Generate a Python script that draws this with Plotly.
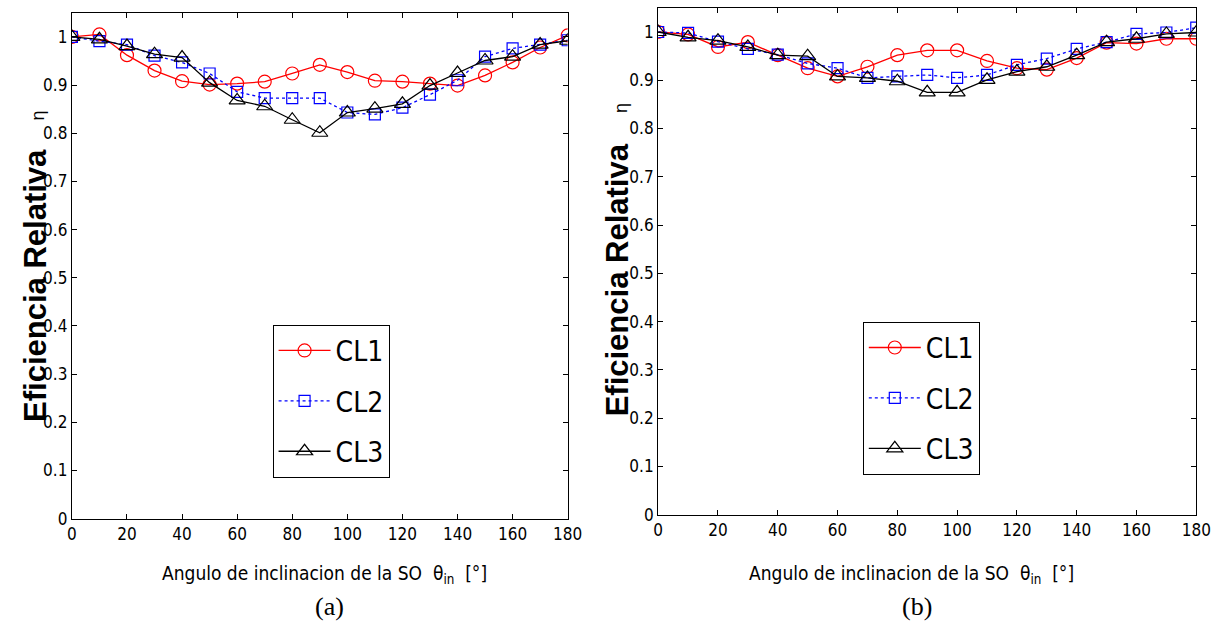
import plotly.graph_objects as go

# ---------------- data ----------------
angles = [0, 10, 20, 30, 40, 50, 60, 70, 80, 90, 100, 110, 120, 130, 140, 150, 160, 170, 180]

a_cl1 = [1.000, 1.005, 0.962, 0.930, 0.908, 0.901, 0.903, 0.907, 0.924, 0.942, 0.927, 0.909, 0.907, 0.903, 0.899, 0.920, 0.947, 0.978, 1.003]
a_cl2 = [1.000, 0.991, 0.984, 0.961, 0.947, 0.924, 0.886, 0.873, 0.873, 0.873, 0.843, 0.839, 0.853, 0.880, 0.910, 0.959, 0.976, 0.984, 0.993]
a_cl3 = [1.000, 0.995, 0.981, 0.964, 0.957, 0.905, 0.868, 0.856, 0.828, 0.801, 0.843, 0.851, 0.861, 0.899, 0.925, 0.951, 0.959, 0.984, 0.992]

b_cl1 = [1.000, 0.995, 0.969, 0.979, 0.952, 0.925, 0.908, 0.928, 0.952, 0.962, 0.962, 0.940, 0.925, 0.922, 0.946, 0.978, 0.976, 0.986, 0.986]
b_cl2 = [1.000, 0.998, 0.980, 0.965, 0.953, 0.935, 0.925, 0.905, 0.908, 0.911, 0.905, 0.911, 0.932, 0.945, 0.965, 0.979, 0.996, 0.999, 1.009]
b_cl3 = [1.000, 0.989, 0.982, 0.969, 0.952, 0.950, 0.908, 0.905, 0.898, 0.875, 0.875, 0.901, 0.918, 0.928, 0.952, 0.979, 0.986, 0.996, 0.999]

series_names = ["CL1", "CL2", "CL3"]
x_ticks = [0, 20, 40, 60, 80, 100, 120, 140, 160, 180]
y_ticks = [0, 0.1, 0.2, 0.3, 0.4, 0.5, 0.6, 0.7, 0.8, 0.9, 1.0]
y_ticktext = ["0", "0.1", "0.2", "0.3", "0.4", "0.5", "0.6", "0.7", "0.8", "0.9", "1"]

W, H = 1228, 630
NARROW = "DejaVu Sans Condensed, Liberation Sans, Arial"
SANS = "Liberation Sans, Arial, sans-serif"
SERIF = "Liberation Serif, Times New Roman, serif"

styles = [
    dict(color="#ff0000", symbol="circle-open", size=13, dash="solid"),
    dict(color="#0000ff", symbol="square-open", size=11, dash="dot"),
    dict(color="#000000", symbol="triangle-up-open", size=14, dash="solid"),
]

fig = go.Figure()

panels = [
    dict(xa="x", ya="y", legend="legend", data=[a_cl1, a_cl2, a_cl3]),
    dict(xa="x2", ya="y2", legend="legend2", data=[b_cl1, b_cl2, b_cl3]),
]
for p in panels:
    for name, ys, st in zip(series_names, p["data"], styles):
        fig.add_trace(go.Scatter(
            x=angles, y=ys, name=name, mode="lines+markers",
            xaxis=p["xa"], yaxis=p["ya"], legend=p["legend"],
            legendgroup=p["legend"] + name,
            line=dict(color=st["color"], width=1.3, dash=st["dash"]),
            marker=dict(symbol=st["symbol"], size=st["size"], color=st["color"],
                        line=dict(width=1.2, color=st["color"])),
        ))

def px_x(v):
    return v / W

def px_y(v):
    return (H - v) / H

axis_common = dict(showline=True, linecolor="black", linewidth=1.2, mirror="ticks",
                   ticks="inside", ticklen=5, tickwidth=1, tickcolor="black",
                   showgrid=False, zeroline=False,
                   tickfont=dict(family=NARROW, size=17, color="black"))

legend_common = dict(xanchor="left", yanchor="top",
                     bgcolor="white", bordercolor="black", borderwidth=1,
                     font=dict(family=NARROW, size=28, color="black"),
                     traceorder="grouped", tracegroupgap=11, itemwidth=52)

fig.update_layout(
    width=W, height=H,
    margin=dict(l=0, r=0, t=0, b=0),
    paper_bgcolor="white", plot_bgcolor="white",
    showlegend=True,
    xaxis=dict(domain=[px_x(68), px_x(572)], range=[0, 180], tickvals=x_ticks,
               anchor="y", **axis_common),
    yaxis=dict(domain=[px_y(527), px_y(13)], range=[0, 1.05], tickvals=y_ticks,
               ticktext=y_ticktext, anchor="x", **axis_common),
    xaxis2=dict(domain=[px_x(664), px_x(1211)], range=[0, 180], tickvals=x_ticks,
                anchor="y2", **axis_common),
    yaxis2=dict(domain=[px_y(523), px_y(8)], range=[0, 1.05], tickvals=y_ticks,
                ticktext=y_ticktext, anchor="x2", **axis_common),
    legend=dict(x=px_x(272), y=px_y(330), **legend_common),
    legend2=dict(x=px_x(872), y=px_y(327), **legend_common),
)

nb = "\u00a0"
xtitle = "Angulo de inclinacion de la SO" + nb * 2 + "\u03b8<sub>in</sub>" + nb * 2 + "[\u00b0]"

annotations = []
for cx, ytc, etay, xt_x, lab in [(31, 290, 117, 325, "(a)"), (623, 284, 110, 922, "(b)")]:
    annotations.append(dict(x=px_x(cx), y=px_y(ytc), xref="paper", yref="paper",
                            text="<b>Eficiencia Relativa</b>", textangle=-90, showarrow=False,
                            font=dict(family=SANS, size=31, color="black"),
                            xanchor="center", yanchor="middle"))
    annotations.append(dict(x=px_x(cx + 3), y=px_y(etay), xref="paper", yref="paper",
                            text="\u03b7", textangle=-90, showarrow=False,
                            font=dict(family=SANS, size=18, color="black"),
                            xanchor="center", yanchor="middle"))
    annotations.append(dict(x=px_x(xt_x), y=px_y(584), xref="paper", yref="paper",
                            text=xtitle, showarrow=False,
                            font=dict(family=NARROW, size=19, color="black"),
                            xanchor="center", yanchor="middle"))
    annotations.append(dict(x=px_x(xt_x + 5), y=px_y(616), xref="paper", yref="paper",
                            text=lab, showarrow=False,
                            font=dict(family=SERIF, size=26, color="black"),
                            xanchor="center", yanchor="middle"))
fig.update_layout(annotations=annotations)

fig.write_html("out.html")
